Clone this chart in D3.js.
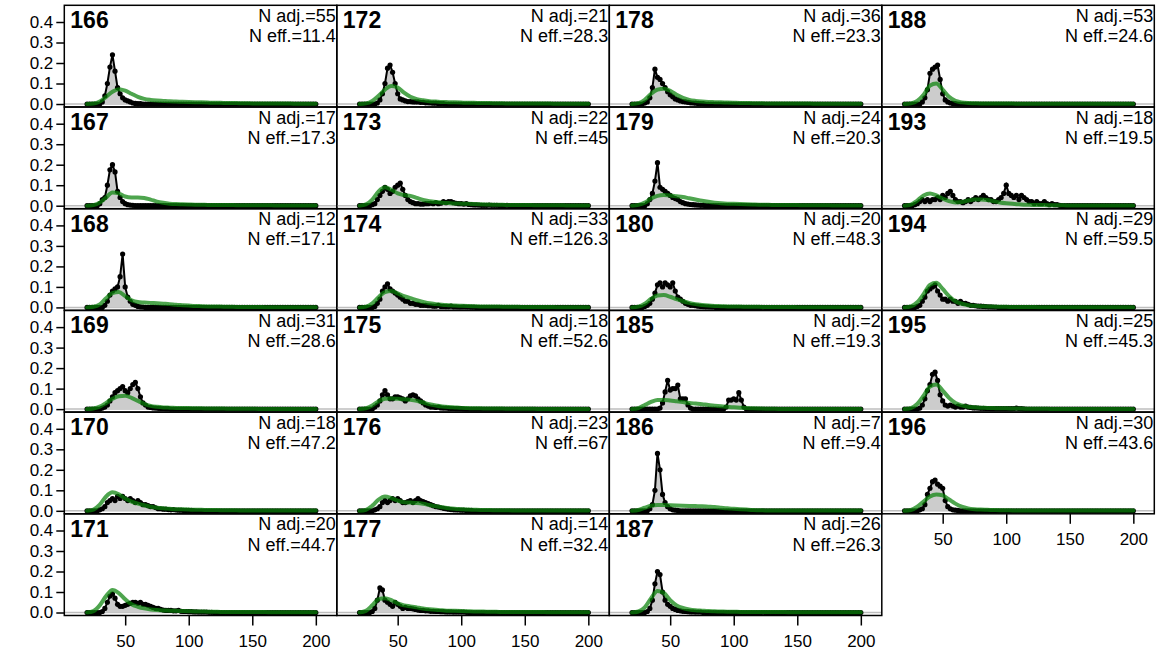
<!DOCTYPE html>
<html><head><meta charset="utf-8">
<script src="https://cdn.jsdelivr.net/npm/d3@7"></script>
<style>body{margin:0;background:#fff}svg{display:block}text{font-family:"Liberation Sans",Arial,sans-serif}</style>
</head><body><svg id="c" width="1156" height="666"></svg>
<script>
const xGrid = [20,22,24,26,28,30,32,34,36,38,40,42,44,46,48,50,52,54,56,58,60,62,64,66,68,70,72,74,76,78,80,82,84,86,88,90,92,94,96,98,100,102,104,106,108,110,112,114,116,118,120,122,124,126,128,130,132,134,136,138,140,142,144,146,148,150,152,154,156,158,160,162,164,166,168,170,172,174,176,178,180,182,184,186,188,190,192,194,196,198,200];
const fitGrid = [20,25,30,35,40,45,50,55,60,65,70,75,80,85,90,95,100,105,110,115,120,125,130,135,140,145,150,155,160,165,170,175,180,185,190,195,200];
const xTicks = [50,100,150,200];
const yTicks = [0.0,0.1,0.2,0.3,0.4];
const yTickLabels = ["0.0","0.1","0.2","0.3","0.4"];

const panelIds = ["166","167","168","169","170","171","172","173","174","175","176","177","178","179","180","185","186","187","188","193","194","195","196"];
const nAdj = [55,17,12,31,18,20,21,22,33,18,23,14,36,24,20,2,7,26,53,18,29,25,30];
const nEff = ["11.4","17.3","17.1","28.6","47.2","44.7","28.3","45","126.3","52.6","67","32.4","23.3","20.3","48.3","19.3","9.4","26.3","24.6","19.5","59.5","45.3","43.6"];

// observed proportions on xGrid
const obs166 = [0,0,0,0,0,0,.01,.04,.10,.18, .24,.16,.08,.05,.03,.02,.015,.01,.005,.003, .002,.002,0,0,0,0,0,0,0,0, 0,0,0,0,0,0,0,0,0,0, 0,0,0,0,0,0,0,0,0,0, 0,0,0,0,0,0,0,0,0,0, 0,0,0,0,0,0,0,0,0,0, 0,0,0,0,0,0,0,0,0,0, 0,0,0,0,0,0,0,0,0,0, 0];
const obs167 = [0,0,0,0,0,.01,.03,.04,.10,.175, .20,.165,.07,.04,.02,.01,.005,.003,.002,0, 0,0,0,0,0,0,0,0,0,0, 0,0,0,0,0,0,0,0,0,0, 0,0,0,0,0,0,0,0,0,0, 0,0,0,0,0,0,0,0,0,0, 0,0,0,0,0,0,0,0,0,0, 0,0,0,0,0,0,0,0,0,0, 0,0,0,0,0,0,0,0,0,0, 0];
const obs168 = [0,0,0,0,0,0,0,.01,.03,.06, .08,.09,.10,.15,.26,.10,.05,.03,.015,.01, .005,.003,.002,0,0,0,0,0,0,0, 0,0,0,0,0,0,0,0,0,0, 0,0,0,0,0,0,0,0,0,0, 0,0,0,0,0,0,0,0,0,0, 0,0,0,0,0,0,0,0,0,0, 0,0,0,0,0,0,0,0,0,0, 0,0,0,0,0,0,0,0,0,0, 0];
const obs169 = [0,0,0,0,0,0,.005,.01,.02,.04, .06,.08,.09,.10,.11,.09,.08,.10,.12,.13, .10,.06,.03,.02,.01,.008,.006,.005,.004,.003, .003,.002,.002,0,0,0,0,0,0,0, 0,0,0,0,0,0,0,0,0,0, 0,0,0,0,0,0,0,0,0,0, 0,0,0,0,0,0,0,0,0,0, 0,0,0,0,0,0,0,0,0,0, 0,0,0,0,0,0,0,0,0,0, 0];
const obs170 = [0,0,0,0,0,.005,.01,.02,.04,.05, .06,.05,.07,.06,.07,.06,.05,.06,.05,.04, .05,.04,.03,.03,.025,.02,.02,.015,.01,.01, .008,.008,.006,.005,.006,.004,.003,.003,.002,.002, .002,.002,.001,0,0,0,0,0,0,0, 0,0,0,0,0,0,0,0,0,0, 0,0,0,0,0,0,0,0,0,0, 0,0,0,0,0,0,0,0,0,0, 0,0,0,0,0,0,0,0,0,0, 0];
const obs171 = [0,0,0,0,0,0,.005,.02,.05,.08, .09,.07,.04,.03,.03,.035,.04,.045,.05,.05, .045,.05,.04,.04,.035,.03,.025,.02,.02,.015, .012,.01,.01,.01,.008,.008,.01,.006,.005,.005, .004,.004,.003,.003,.002,.002,.002,.002,.001,.001, 0,0,0,0,0,0,0,0,0,0, 0,0,0,0,0,0,0,0,0,0, 0,0,0,0,0,0,0,0,0,0, 0,0,0,0,0,0,0,0,0,0, 0];
const obs172 = [0,0,0,0,0,0,0,.005,.02,.05, .10,.175,.19,.155,.10,.05,.025,.02,.015,.012, .012,.01,.01,.01,.008,.008,.006,.006,.005,.004, .004,.003,.002,.002,0,0,0,0,0,0, 0,0,0,0,0,0,0,0,0,0, 0,0,0,0,0,0,0,0,0,0, 0,0,0,0,0,0,0,0,0,0, 0,0,0,0,0,0,0,0,0,0, 0,0,0,0,0,0,0,0,0,0, 0];
const obs173 = [0,0,0,0,0,.005,.01,.03,.05,.07, .09,.08,.06,.07,.09,.10,.11,.08,.05,.03, .02,.015,.01,.01,.008,.008,.01,.01,.012,.01, .015,.01,.012,.02,.015,.02,.02,.015,.012,.01, .01,.008,.01,.006,.005,.004,.004,.003,.002,.002, .002,.003,.002,.002,.002,.001,.001,.001,.002,.001, .001,0,0,0,0,0,0,0,0,0, 0,0,0,0,0,0,0,0,0,0, 0,0,0,0,0,0,0,0,0,0, 0];
const obs174 = [0,0,0,0,0,0,.005,.02,.04,.08, .10,.115,.09,.08,.07,.06,.05,.04,.03,.03, .02,.02,.015,.015,.01,.01,.01,.008,.008,.006, .006,.01,.005,.005,.004,.004,.006,.003,.003,.002, .002,.003,.002,.002,.001,.001,0,0,0,0, 0,0,0,0,0,0,0,0,0,0, 0,0,0,0,0,0,0,0,0,0, 0,0,0,0,0,0,0,0,0,0, 0,0,0,0,0,0,0,0,0,0, 0];
const obs175 = [0,0,0,0,0,0,.01,.02,.04,.07, .09,.07,.05,.05,.06,.06,.055,.05,.04,.05, .065,.07,.065,.05,.04,.03,.02,.015,.01,.01, .008,.01,.006,.005,.005,.004,.003,.003,.002,.002, .002,.001,0,0,0,0,0,0,0,0, 0,0,0,0,0,0,0,0,0,0, 0,0,0,0,0,0,0,0,0,0, 0,0,0,0,0,0,0,0,0,0, 0,0,0,0,0,0,0,0,0,0, 0];
const obs176 = [0,0,0,0,0,0,.005,.01,.02,.04, .05,.04,.05,.06,.05,.06,.05,.04,.04,.045, .05,.04,.05,.06,.05,.045,.04,.035,.03,.025, .02,.018,.015,.012,.01,.008,.006,.005,.004,.004, .003,.003,.002,.002,.002,0,0,0,0,0, 0,0,0,0,0,0,0,0,0,0, 0,0,0,0,0,0,0,0,0,0, 0,0,0,0,0,0,0,0,0,0, 0,0,0,0,0,0,0,0,0,0, 0];
const obs177 = [0,0,0,0,0,.005,.02,.06,.12,.11, .06,.05,.04,.03,.05,.04,.03,.02,.025,.02, .02,.018,.015,.012,.01,.01,.008,.008,.006,.006, .005,.005,.004,.004,.003,.003,.003,.002,.002,.002, .002,.002,.001,0,0,0,0,0,0,0, 0,0,0,0,0,0,0,0,0,0, 0,0,0,0,0,0,0,0,0,0, 0,0,0,0,0,0,0,0,0,0, 0,0,0,0,0,0,0,0,0,0, 0];
const obs178 = [0,0,0,0,0,.005,.01,.03,.08,.17, .13,.12,.10,.08,.06,.045,.035,.025,.02,.015, .012,.01,.008,.006,.005,.004,.003,.002,.002,0, 0,0,0,0,0,0,0,0,0,0, 0,0,0,0,0,0,0,0,0,0, 0,0,0,0,0,0,0,0,0,0, 0,0,0,0,0,0,0,0,0,0, 0,0,0,0,0,0,0,0,0,0, 0,0,0,0,0,0,0,0,0,0, 0];
const obs179 = [0,0,0,0,0,0,.01,.03,.06,.12, .21,.09,.08,.07,.06,.05,.04,.035,.03,.02, .015,.01,.008,.006,.005,.004,.003,.002,.002,0, 0,0,0,0,0,0,0,0,0,0, 0,0,0,0,0,0,0,0,0,0, 0,0,0,0,0,0,0,0,0,0, 0,0,0,0,0,0,0,0,0,0, 0,0,0,0,0,0,0,0,0,0, 0,0,0,0,0,0,0,0,0,0, 0];
const obs180 = [0,0,0,0,0,.005,.01,.02,.04,.07, .11,.12,.10,.12,.11,.10,.12,.08,.05,.04, .03,.02,.015,.01,.01,.008,.006,.005,.004,.003, .003,.002,.002,0,0,0,0,0,0,0, 0,0,0,0,0,0,0,0,0,0, 0,0,0,0,0,0,0,0,0,0, 0,0,0,0,0,0,0,0,0,0, 0,0,0,0,0,0,0,0,0,0, 0,0,0,0,0,0,0,0,0,0, 0];
const obs185 = [0,0,0,0,0,0,0,0,0,0, 0,.005,.03,.084,.14,.093,.10,.10,.117,.05, .05,.05,.02,.005,0,0,0,0,0,0, 0,0,0,0,0,0,0,.01,.044,.044, .05,.044,.08,.044,.01,0,0,0,0,0, 0,0,0,0,0,0,0,0,0,0, 0,0,0,0,0,0,0,0,0,0, 0,0,0,0,0,0,0,0,0,0, 0,0,0,0,0,0,0,0,0,0, 0];
const obs186 = [0,0,0,0,0,0,0,.01,.03,.10, .28,.20,.08,.04,.02,.01,.005,.003,.002,0, 0,0,0,0,0,0,0,0,0,0, 0,0,0,0,0,0,0,0,0,0, 0,0,0,0,0,0,0,0,0,0, 0,0,0,0,0,0,0,0,0,0, 0,0,0,0,0,0,0,0,0,0, 0,0,0,0,0,0,0,0,0,0, 0,0,0,0,0,0,0,0,0,0, 0];
const obs187 = [0,0,0,0,0,0,.005,.02,.06,.14, .20,.185,.10,.06,.04,.03,.02,.015,.01,.008, .006,.005,.004,.003,.003,.002,.002,.002,0,0, 0,0,0,0,0,0,0,0,0,0, 0,0,0,0,0,0,0,0,0,0, 0,0,0,0,0,0,0,0,0,0, 0,0,0,0,0,0,0,0,0,0, 0,0,0,0,0,0,0,0,0,0, 0,0,0,0,0,0,0,0,0,0, 0];
const obs188 = [0,0,0,0,0,0,0,.01,.03,.07, .15,.17,.18,.19,.12,.05,.02,.01,.005,.003, .002,0,0,0,0,0,0,0,0,0, 0,0,0,0,0,0,0,0,0,0, 0,0,0,0,0,0,0,0,0,0, 0,0,0,0,0,0,0,0,0,0, 0,0,0,0,0,0,0,0,0,0, 0,0,0,0,0,0,0,0,0,0, 0,0,0,0,0,0,0,0,0,0, 0];
const obs193 = [0,0,0,0,.005,.01,.02,.03,.02,.03, .02,.03,.03,.04,.03,.05,.04,.06,.07,.05, .03,.02,.02,.015,.02,.03,.02,.03,.04,.03, .04,.05,.04,.03,.03,.02,.02,.03,.04,.06, .10,.06,.05,.04,.05,.03,.05,.04,.03,.02, .02,.01,.02,.01,.01,.02,.01,.005,.01,.005, .005,.002,0,0,0,0,0,0,0,0, 0,0,0,0,0,0,0,0,0,0, 0,0,0,0,0,0,0,0,0,0, 0];
const obs194 = [0,0,0,0,0,.005,.01,.03,.05,.08, .09,.10,.11,.08,.06,.04,.04,.03,.04,.03, .03,.02,.03,.02,.02,.015,.01,.01,.008,.006, .006,.005,.004,.003,.003,.002,.002,0,0,0, 0,0,0,0,0,0,0,0,0,0, 0,0,0,0,0,0,0,0,0,0, 0,0,0,0,0,0,0,0,0,0, 0,0,0,0,0,0,0,0,0,0, 0,0,0,0,0,0,0,0,0,0, 0];
const obs195 = [0,0,0,0,0,0,.005,.02,.05,.09, .12,.17,.18,.14,.07,.04,.02,.015,.02,.015, .01,.015,.01,.01,.015,.01,.008,.006,.006,.005, .004,.004,.003,.003,.002,.002,.002,.002,.002,.002, .002,.002,.002,.003,.005,.003,.002,.001,0,0, 0,0,0,0,0,0,0,0,0,0, 0,0,0,0,0,0,0,0,0,0, 0,0,0,0,0,0,0,0,0,0, 0,0,0,0,0,0,0,0,0,0, 0];
const obs196 = [0,0,0,0,0,0,.005,.01,.03,.08, .11,.142,.15,.13,.12,.11,.05,.02,.01,.005, .003,.002,0,0,0,0,0,0,0,0, 0,0,0,0,0,0,0,0,0,0, 0,0,0,0,0,0,0,0,0,0, 0,0,0,0,0,0,0,0,0,0, 0,0,0,0,0,0,0,0,0,0, 0,0,0,0,0,0,0,0,0,0, 0,0,0,0,0,0,0,0,0,0, 0];

// fitted density on fitGrid
const fit166 = [0,.002,.012,.035,.06,.072,.065,.05,.035,.025,.02,.017,.015,.013,.012,.011,.01,.009,.008,.007,.006,.006,.005,.005,.004,.004,.003,.003,.003,.002,.002,.002,.002,.001,.001,.001,.001];
const fit167 = [0,.003,.015,.04,.065,.06,.045,.04,.04,.038,.03,.02,.014,.01,.008,.007,.006,.005,.005,.004,.004,.003,.003,.003,.002,.002,.002,.002,.002,.002,.001,.001,.001,.001,.001,.001,.001];
const fit168 = [0,.003,.015,.045,.07,.075,.055,.035,.026,.024,.022,.02,.018,.016,.013,.011,.009,.007,.006,.005,.004,.004,.003,.003,.002,.002,.002,.002,.001,.001,.001,.001,.001,.001,.001,.001,.001];
const fit169 = [0,.003,.012,.03,.05,.063,.065,.055,.04,.026,.016,.011,.008,.007,.006,.005,.005,.004,.004,.003,.003,.003,.002,.002,.002,.002,.002,.001,.001,.001,.001,.001,.001,.001,.001,.001,.001];
const fit170 = [0,.006,.03,.07,.09,.08,.06,.045,.035,.027,.02,.015,.012,.01,.008,.007,.006,.005,.005,.004,.004,.003,.003,.003,.002,.002,.002,.002,.002,.001,.001,.001,.001,.001,.001,.001,.001];
const fit171 = [0,.007,.035,.08,.11,.095,.065,.04,.028,.02,.015,.012,.01,.009,.008,.007,.006,.005,.005,.004,.004,.003,.003,.003,.002,.002,.002,.002,.002,.001,.001,.001,.001,.001,.001,.001,.001];
const fit172 = [0,.003,.015,.04,.07,.088,.08,.055,.035,.024,.018,.014,.012,.01,.009,.008,.007,.006,.006,.005,.005,.004,.004,.003,.003,.003,.002,.002,.002,.002,.002,.001,.001,.001,.001,.001,.001];
const fit173 = [0,.006,.03,.07,.09,.078,.06,.052,.048,.038,.028,.022,.018,.015,.013,.011,.01,.009,.008,.007,.006,.005,.005,.004,.004,.003,.003,.003,.002,.002,.002,.002,.002,.001,.001,.001,.001];
const fit174 = [0,.004,.02,.05,.075,.08,.068,.055,.045,.035,.027,.02,.016,.013,.011,.009,.008,.007,.006,.005,.005,.004,.004,.003,.003,.003,.002,.002,.002,.002,.002,.001,.001,.001,.001,.001,.001];
const fit175 = [0,.004,.018,.038,.05,.052,.05,.048,.045,.04,.032,.024,.018,.013,.01,.008,.006,.005,.004,.004,.003,.003,.003,.002,.002,.002,.002,.002,.001,.001,.001,.001,.001,.001,.001,.001,.001];
const fit176 = [0,.005,.025,.055,.07,.062,.05,.042,.04,.038,.034,.028,.022,.017,.013,.01,.008,.006,.005,.004,.004,.003,.003,.003,.002,.002,.002,.002,.002,.001,.001,.001,.001,.001,.001,.001,.001];
const fit177 = [0,.008,.035,.065,.07,.06,.045,.035,.03,.025,.02,.016,.013,.011,.009,.008,.007,.006,.005,.005,.004,.004,.003,.003,.003,.002,.002,.002,.002,.002,.001,.001,.001,.001,.001,.001,.001];
const fit178 = [0,.004,.02,.05,.07,.075,.065,.045,.03,.02,.015,.012,.01,.009,.008,.007,.006,.005,.005,.004,.004,.003,.003,.003,.002,.002,.002,.002,.002,.001,.001,.001,.001,.001,.001,.001,.001];
const fit179 = [0,.004,.015,.035,.048,.052,.05,.046,.042,.036,.03,.024,.019,.015,.012,.01,.009,.008,.007,.006,.005,.005,.004,.004,.003,.003,.003,.002,.002,.002,.002,.002,.001,.001,.001,.001,.001];
const fit180 = [0,.004,.018,.042,.058,.06,.052,.04,.03,.022,.016,.012,.009,.007,.006,.005,.004,.004,.003,.003,.003,.002,.002,.002,.002,.002,.001,.001,.001,.001,.001,.001,.001,.001,.001,.001,.001];
const fit185 = [0,.005,.02,.035,.045,.045,.042,.038,.034,.03,.027,.024,.02,.017,.014,.011,.009,.007,.005,.004,.003,.002,.002,.001,.001,.001,.001,.001,.001,.001,.001,.001,.001,.001,.001,.001,.001];
const fit186 = [0,.004,.015,.025,.028,.028,.027,.026,.025,.024,.023,.022,.02,.018,.015,.012,.01,.008,.006,.004,.003,.002,.002,.001,.001,.001,.001,.001,.001,.001,.001,.001,.001,.001,.001,.001,.001];
const fit187 = [0,.005,.025,.07,.105,.095,.06,.035,.022,.015,.011,.009,.007,.006,.005,.004,.004,.003,.003,.003,.002,.002,.002,.002,.002,.001,.001,.001,.001,.001,.001,.001,.001,.001,.001,.001,.001];
const fit188 = [0,.003,.015,.045,.09,.10,.07,.035,.015,.008,.005,.004,.003,.003,.002,.002,.002,.002,.001,.001,.001,.001,.001,.001,.001,.001,.001,.001,.001,.001,.001,.001,.001,.001,.001,.001,.001];
const fit193 = [0,.005,.025,.05,.06,.05,.035,.022,.016,.018,.025,.03,.03,.028,.022,.016,.012,.009,.007,.005,.004,.003,.003,.002,.002,.002,.001,.001,.001,.001,.001,.001,.001,.001,.001,.001,.001];
const fit194 = [0,.005,.025,.065,.11,.12,.09,.055,.03,.018,.011,.008,.006,.005,.004,.003,.003,.002,.002,.002,.002,.001,.001,.001,.001,.001,.001,.001,.001,.001,.001,.001,.001,.001,.001,.001,.001];
const fit195 = [0,.005,.025,.065,.11,.12,.09,.055,.03,.018,.012,.009,.007,.006,.005,.004,.004,.003,.003,.002,.002,.002,.002,.001,.001,.001,.001,.001,.001,.001,.001,.001,.001,.001,.001,.001,.001];
const fit196 = [0,.004,.02,.045,.07,.08,.075,.055,.035,.02,.012,.008,.006,.005,.004,.003,.003,.002,.002,.002,.002,.001,.001,.001,.001,.001,.001,.001,.001,.001,.001,.001,.001,.001,.001,.001,.001];

const obsSeries = [obs166,obs167,obs168,obs169,obs170,obs171,obs172,obs173,obs174,obs175,obs176,obs177,obs178,obs179,obs180,obs185,obs186,obs187,obs188,obs193,obs194,obs195,obs196];
const fitSeries = [fit166,fit167,fit168,fit169,fit170,fit171,fit172,fit173,fit174,fit175,fit176,fit177,fit178,fit179,fit180,fit185,fit186,fit187,fit188,fit193,fit194,fit195,fit196];
// panels fill column by column: 6,6,6,5
const colCounts = [6,6,6,5];

const svg = d3.select("#c");
svg.append("rect").attr("width",1156).attr("height",666).attr("fill","#fff");

const L = 64.3, T = 5.3, PW = 272.5, PH = 101.7;
const x = d3.scaleLinear().domain([2.1, 216.5]).range([0, PW]);
const y = d3.scaleLinear().domain([-0.0146, 0.4815]).range([PH, 0]);

const green = "rgba(10,130,10,0.72)";
let k = 0;
colCounts.forEach((n, c) => {
  for (let r = 0; r < n; r++, k++) {
    const g = svg.append("g").attr("transform", `translate(${L + c*PW},${T + r*PH})`);
    const obs = xGrid.map((xv,i)=>[xv, obsSeries[k][i]]);
    const fit = fitGrid.map((xv,i)=>[xv, fitSeries[k][i]]);
    g.append("line").attr("x1",0).attr("x2",PW).attr("y1",y(0)).attr("y2",y(0))
      .attr("stroke","#bebebe").attr("stroke-width",1.5);
    g.append("path").datum(obs)
      .attr("d", d3.area().x(d=>x(d[0])).y0(y(0)).y1(d=>y(d[1])))
      .attr("fill","#cccccc");
    g.append("path").datum(obs)
      .attr("d", d3.line().x(d=>x(d[0])).y(d=>y(d[1])))
      .attr("fill","none").attr("stroke","#000").attr("stroke-width",2);
    g.selectAll("circle").data(obs).join("circle")
      .attr("cx",d=>x(d[0])).attr("cy",d=>y(d[1])).attr("r",2.6).attr("fill","#000");
    g.append("path").datum(fit)
      .attr("d", d3.line().curve(d3.curveMonotoneX).x(d=>x(d[0])).y(d=>y(d[1])))
      .attr("fill","none").attr("stroke",green).attr("stroke-width",4).attr("stroke-linecap","round");
    g.append("rect").attr("width",PW).attr("height",PH).attr("fill","none").attr("stroke","#000").attr("stroke-width",1.5);
    g.append("text").attr("x",6).attr("y",23).attr("font-size",23).attr("font-weight","bold").text(panelIds[k]);
    g.append("text").attr("x",PW-1).attr("y",16.5).attr("font-size",18).attr("text-anchor","end").text("N adj.=" + nAdj[k]);
    g.append("text").attr("x",PW-1).attr("y",36.8).attr("font-size",18).attr("text-anchor","end").text("N eff.=" + nEff[k]);
    if (c === 0) {
      const ya = d3.axisLeft(y).tickValues(yTicks).tickFormat((d,i)=>yTickLabels[i]).tickSize(8).tickPadding(3);
      const ag = g.append("g").call(ya);
      ag.select(".domain").remove();
      ag.selectAll("line").attr("stroke-width",1.5);
      ag.selectAll("text").attr("font-size",17).attr("fill","#000").attr("font-family","Liberation Sans, Arial, sans-serif");
    }
    if (r === n-1) {
      const xa = d3.axisBottom(x).tickValues(xTicks).tickFormat(d3.format("d")).tickSize(10).tickPadding(9);
      const ag = g.append("g").attr("transform",`translate(0,${PH})`).call(xa);
      ag.select(".domain").remove();
      ag.selectAll("line").attr("stroke-width",1.5);
      ag.selectAll("text").attr("font-size",17).attr("fill","#000").attr("font-family","Liberation Sans, Arial, sans-serif");
    }
  }
});
</script></body></html>
